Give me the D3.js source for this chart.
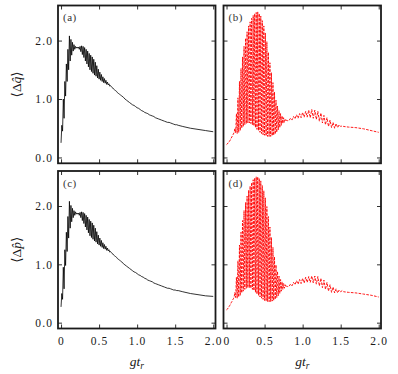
<!DOCTYPE html>
<html>
<head>
<meta charset="utf-8">
<script src="https://cdn.jsdelivr.net/npm/d3@7"></script>
<style>
  body { margin: 0; background: #fff; }
  svg { display: block; }
  svg text { font-family: "Liberation Serif", "Times New Roman", "DejaVu Serif", serif; }
</style>
</head>
<body>
<svg id="chart" width="398" height="374"></svg>
<script>
// time axis g*t_r (shared by the four panels): fine where the curves oscillate
const tGrid = [
  0.00, 0.01, 0.02, 0.03, 0.04, 0.05, 0.06, 0.07, 0.08, 0.09,
  0.10, 0.11, 0.12, 0.13, 0.14, 0.15, 0.16, 0.17, 0.18, 0.19,
  0.20, 0.21, 0.22, 0.23, 0.24, 0.25, 0.26, 0.27, 0.28, 0.29,
  0.30, 0.31, 0.32, 0.33, 0.34, 0.35, 0.36, 0.37, 0.38, 0.39,
  0.40, 0.41, 0.42, 0.43, 0.44, 0.45, 0.46, 0.47, 0.48, 0.49,
  0.50, 0.51, 0.52, 0.53, 0.54, 0.55, 0.56, 0.57, 0.58, 0.59,
  0.60, 0.61, 0.62, 0.63, 0.64, 0.65, 0.66, 0.67, 0.68, 0.69,
  0.70, 0.71, 0.72, 0.73, 0.74, 0.75, 0.76, 0.77, 0.78, 0.79,
  0.80,
  0.82, 0.84, 0.86, 0.88, 0.90, 0.92, 0.94, 0.96, 0.98,
  1.00, 1.02, 1.04, 1.06, 1.08, 1.10, 1.12, 1.14, 1.16, 1.18,
  1.20, 1.22, 1.24, 1.26, 1.28, 1.30, 1.32, 1.34, 1.36, 1.38,
  1.40, 1.42, 1.44, 1.46, 1.48, 1.50, 1.52, 1.54,
  1.60, 1.70, 1.80, 1.90, 2.00
];

// (a) <Δq>, black solid
const qLeft = [
  0.25, 0.55, 0.45, 1.00, 0.67, 1.30, 1.05, 1.60, 1.30, 1.85,
  1.50, 2.08, 1.65, 2.02, 1.75, 1.97, 1.82, 1.93, 1.85, 1.90,
  1.87, 1.89, 1.87, 1.89, 1.85, 1.90, 1.81, 1.91, 1.76, 1.90,
  1.71, 1.88, 1.65, 1.85, 1.60, 1.82, 1.55, 1.78, 1.50, 1.75,
  1.47, 1.72, 1.44, 1.68, 1.41, 1.63, 1.39, 1.57, 1.36, 1.51,
  1.34, 1.46, 1.32, 1.42, 1.30, 1.38, 1.28, 1.35, 1.27, 1.32,
  1.25, 1.29, 1.24, 1.26, 1.22, 1.23, 1.21, 1.20, 1.19, 1.17,
  1.16, 1.15, 1.14, 1.13, 1.11, 1.10, 1.09, 1.08, 1.07, 1.06,
  1.05,
  1.03, 1.00, 0.98, 0.96, 0.94, 0.92, 0.90, 0.89, 0.87,
  0.85, 0.84, 0.82, 0.80, 0.79, 0.77, 0.76, 0.75, 0.73, 0.72,
  0.71, 0.70, 0.68, 0.67, 0.66, 0.65, 0.64, 0.63, 0.62, 0.61,
  0.60, 0.60, 0.59, 0.58, 0.57, 0.56, 0.56, 0.55,
  0.53, 0.50, 0.48, 0.46, 0.44
];

// (b) <Δq>, red dashed
const qRight = [
  0.22, 0.23, 0.25, 0.26, 0.28, 0.30, 0.33, 0.35, 0.38, 0.40,
  0.43, 0.50, 0.42, 0.75, 0.41, 1.02, 0.43, 1.30, 0.46, 1.52,
  0.50, 1.72, 0.53, 1.90, 0.56, 2.04, 0.58, 2.15, 0.59, 2.25,
  0.59, 2.32, 0.58, 2.38, 0.56, 2.43, 0.54, 2.46, 0.51, 2.48,
  0.48, 2.49, 0.46, 2.46, 0.43, 2.42, 0.41, 2.34, 0.39, 2.25,
  0.38, 2.13, 0.37, 1.98, 0.36, 1.80, 0.36, 1.62, 0.36, 1.45,
  0.37, 1.28, 0.38, 1.12, 0.40, 0.98, 0.43, 0.88, 0.47, 0.80,
  0.51, 0.75, 0.55, 0.71, 0.58, 0.68, 0.60, 0.65, 0.62, 0.64,
  0.63,
  0.63, 0.67, 0.64, 0.70, 0.66, 0.73, 0.67, 0.75, 0.68,
  0.77, 0.69, 0.79, 0.69, 0.81, 0.68, 0.82, 0.67, 0.81, 0.65,
  0.79, 0.62, 0.76, 0.59, 0.72, 0.56, 0.68, 0.53, 0.64, 0.51,
  0.60, 0.50, 0.58, 0.51, 0.56, 0.53, 0.54, 0.53,
  0.52, 0.51, 0.49, 0.46, 0.43
];

// (c) <Δp>, black solid
const pLeft = [
  0.27, 0.50, 0.40, 0.95, 0.58, 1.25, 0.98, 1.55, 1.22, 1.82,
  1.45, 2.08, 1.62, 2.01, 1.73, 1.96, 1.80, 1.92, 1.84, 1.90,
  1.86, 1.88, 1.86, 1.88, 1.84, 1.89, 1.80, 1.90, 1.75, 1.89,
  1.70, 1.87, 1.64, 1.84, 1.59, 1.81, 1.54, 1.77, 1.49, 1.74,
  1.46, 1.71, 1.43, 1.67, 1.40, 1.62, 1.38, 1.56, 1.35, 1.50,
  1.33, 1.45, 1.31, 1.41, 1.29, 1.37, 1.27, 1.34, 1.26, 1.31,
  1.24, 1.28, 1.23, 1.25, 1.21, 1.22, 1.20, 1.19, 1.18, 1.16,
  1.15, 1.14, 1.13, 1.12, 1.10, 1.09, 1.08, 1.07, 1.06, 1.05,
  1.04,
  1.01, 0.99, 0.97, 0.95, 0.93, 0.91, 0.89, 0.87, 0.86,
  0.84, 0.82, 0.81, 0.79, 0.78, 0.76, 0.75, 0.73, 0.72, 0.71,
  0.70, 0.68, 0.67, 0.66, 0.65, 0.64, 0.63, 0.62, 0.61, 0.60,
  0.59, 0.59, 0.58, 0.57, 0.56, 0.56, 0.55, 0.55,
  0.53, 0.50, 0.48, 0.46, 0.45
];

// (d) <Δp>, red dashed
const pRight = [
  0.22, 0.23, 0.25, 0.27, 0.29, 0.31, 0.34, 0.36, 0.39, 0.41,
  0.44, 0.52, 0.43, 0.78, 0.42, 1.06, 0.44, 1.33, 0.47, 1.55,
  0.51, 1.75, 0.54, 1.92, 0.57, 2.06, 0.59, 2.17, 0.60, 2.27,
  0.60, 2.34, 0.59, 2.40, 0.57, 2.45, 0.55, 2.48, 0.52, 2.50,
  0.49, 2.50, 0.47, 2.47, 0.44, 2.43, 0.42, 2.35, 0.40, 2.26,
  0.38, 2.14, 0.37, 1.99, 0.36, 1.82, 0.36, 1.64, 0.36, 1.46,
  0.37, 1.29, 0.38, 1.13, 0.40, 0.99, 0.43, 0.88, 0.46, 0.80,
  0.50, 0.74, 0.54, 0.70, 0.57, 0.67, 0.59, 0.65, 0.61, 0.63,
  0.62,
  0.62, 0.66, 0.63, 0.69, 0.65, 0.72, 0.66, 0.74, 0.67,
  0.76, 0.68, 0.78, 0.69, 0.79, 0.69, 0.80, 0.68, 0.80, 0.66,
  0.79, 0.63, 0.76, 0.60, 0.73, 0.57, 0.69, 0.54, 0.65, 0.52,
  0.61, 0.51, 0.58, 0.51, 0.56, 0.53, 0.55, 0.53,
  0.52, 0.51, 0.49, 0.47, 0.44
];

const xTicks = [0, 0.5, 1, 1.5, 2];
const xTickLabels = ["0", "0.5", "1.0", "1.5", "2.0"];
const yTicks = [0, 1, 2];
const yTickLabels = ["0.0", "1.0", "2.0"];
const panelLabels = ["(a)", "(b)", "(c)", "(d)"];
const yLabelVars = ["q", "p"];

const xDomain = [-0.04, 2.03];
const yDomain = [-0.1, 2.6];

// panel boxes, in pixels
const colX = [[58, 215.5], [223.5, 381]];
const rowY = [[5.5, 163.3], [171, 328.5]];

const panels = [
  { row: 0, col: 0, values: qLeft,  red: false },
  { row: 0, col: 1, values: qRight, red: true  },
  { row: 1, col: 0, values: pLeft,  red: false },
  { row: 1, col: 1, values: pRight, red: true  }
];

const svg = d3.select('#chart');
const ink = '#1a1a1a';

panels.forEach((p, i) => {
  const [x0, x1] = colX[p.col];
  const [y0, y1] = rowY[p.row];
  const x = d3.scaleLinear().domain(xDomain).range([x0, x1]);
  const y = d3.scaleLinear().domain(yDomain).range([y1, y0]);
  const g = svg.append('g').attr('class', 'panel');

  g.append('clipPath').attr('id', 'clip' + i)
    .append('rect').attr('x', x0).attr('y', y0).attr('width', x1 - x0).attr('height', y1 - y0);

  // curve
  const line = d3.line().x((d, k) => x(tGrid[k])).y(d => y(d));
  g.append('path')
    .datum(p.values)
    .attr('clip-path', `url(#clip${i})`)
    .attr('fill', 'none')
    .attr('stroke', p.red ? '#ff0000' : '#000')
    .attr('stroke-width', p.red ? 0.9 : 0.8)
    .attr('stroke-dasharray', p.red ? '2.6,1.3' : null)
    .attr('d', line);

  // axes, ticks inward on all four sides
  const bottom = g.append('g').attr('transform', `translate(0,${y1})`)
    .call(d3.axisBottom(x).tickValues(xTicks).tickSize(-4).tickPadding(8)
      .tickFormat((d, k) => p.row === 1 ? xTickLabels[k] : ''));
  const left = g.append('g').attr('transform', `translate(${x0},0)`)
    .call(d3.axisLeft(y).tickValues(yTicks).tickSize(-4).tickPadding(5)
      .tickFormat((d, k) => p.col === 0 ? yTickLabels[k] : ''));
  const top = g.append('g').attr('transform', `translate(0,${y0})`)
    .call(d3.axisTop(x).tickValues(xTicks).tickSize(-4).tickFormat(''));
  const right = g.append('g').attr('transform', `translate(${x1},0)`)
    .call(d3.axisRight(y).tickValues(yTicks).tickSize(-4).tickFormat(''));

  [bottom, left, top, right].forEach(a => {
    a.attr('font-family', null).attr('font-size', null);
    a.select('.domain').remove();
    a.selectAll('.tick line').attr('stroke', ink).attr('stroke-width', 0.9);
    a.selectAll('.tick text')
      .attr('fill', ink)
      .style('font-size', '11.5px')
      .style('letter-spacing', '1.1px');
  });

  // frame
  g.append('rect')
    .attr('x', x0).attr('y', y0)
    .attr('width', x1 - x0).attr('height', y1 - y0)
    .attr('fill', 'none').attr('stroke', ink).attr('stroke-width', 1.8);

  // panel tag
  g.append('text')
    .attr('x', x0 + 5).attr('y', y0 + 15.5)
    .attr('fill', '#333')
    .style('font-size', '11px')
    .style('letter-spacing', '0.5px')
    .text(panelLabels[i]);
});

// y labels  <Δq̂>, <Δp̂>
rowY.forEach(([y0, y1], r) => {
  const t = svg.append('text')
    .attr('transform', `translate(21,${(y0 + y1) / 2}) rotate(-90)`)
    .attr('text-anchor', 'middle')
    .attr('fill', ink)
    .style('font-size', '13.5px');
  t.append('tspan').text('\u27E8\u0394');
  t.append('tspan').style('font-style', 'italic').text(yLabelVars[r] + '\u0302');
  t.append('tspan').text('\u27E9');
});

// x labels  g t_r
colX.forEach(([x0, x1]) => {
  const t = svg.append('text')
    .attr('x', (x0 + x1) / 2).attr('y', 366)
    .attr('text-anchor', 'middle')
    .attr('fill', ink)
    .style('font-size', '13.5px')
    .style('font-style', 'italic');
  t.append('tspan').text('gt');
  t.append('tspan').attr('dy', 2.5).style('font-size', '9.5px').text('r');
});
</script>
</body>
</html>
